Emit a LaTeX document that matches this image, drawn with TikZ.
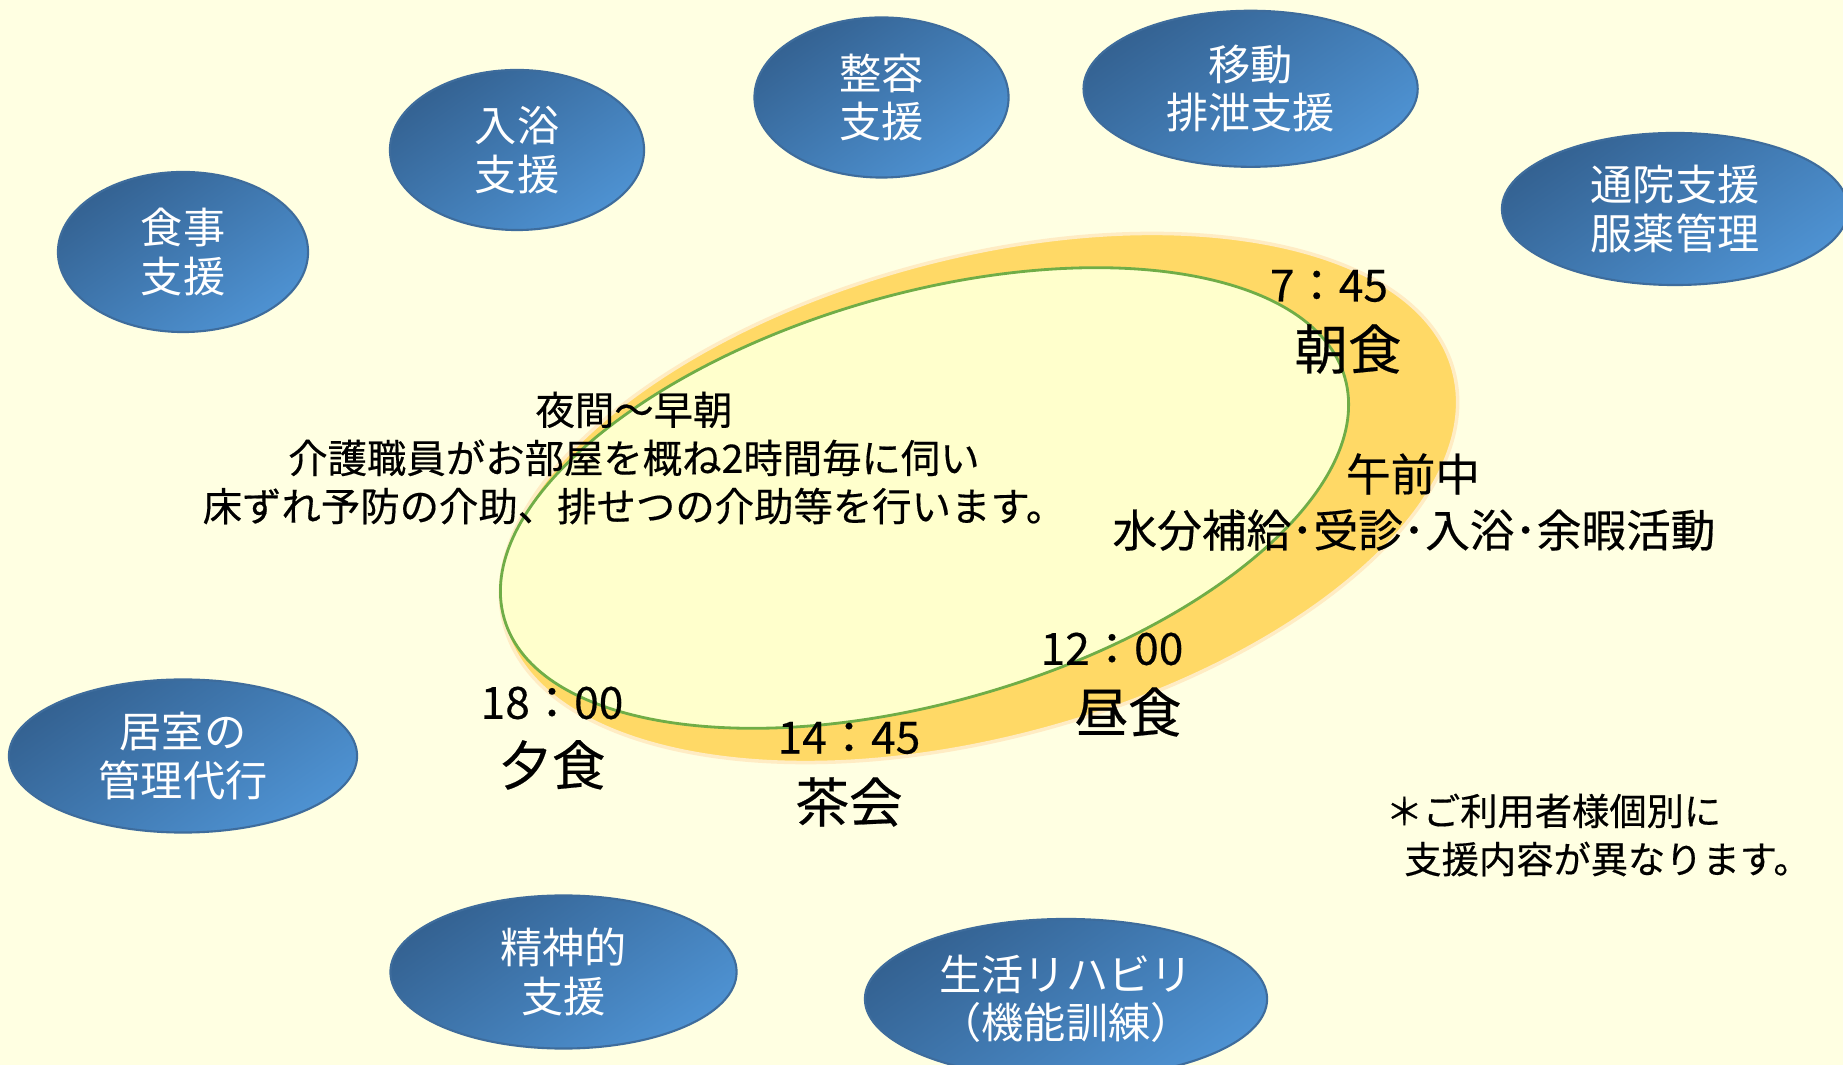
\documentclass[tikz,border=0pt]{standalone}
\usepackage{fontspec}
\setmainfont{Noto Sans CJK JP}
\newfontfamily\darkfont[FakeBold=0.4]{Noto Sans CJK JP}
\usetikzlibrary{shapes.geometric}

\begin{document}
\begin{tikzpicture}[x=0.01cm,y=-0.01cm,
  bubble/.style={ellipse,draw=bubbleline,line width=0.6pt,top color=bubbletop,bottom color=bubblebot,shading angle=35,text=white,align=center,inner sep=0pt,font=\fontsize{12}{13.7}\selectfont},
  clock/.style={inner sep=0pt,font=\darkfont\fontsize{12.6}{14}\selectfont},
  meal/.style={inner sep=0pt,font=\darkfont\fontsize{15.2}{18}\selectfont},
  busy/.style={inner sep=0pt,font=\darkfont\fontsize{12.7}{14}\selectfont},
  remark/.style={inner sep=0pt,align=center,font=\darkfont\fontsize{11.2}{13.7}\selectfont}]
\definecolor{paper}{RGB}{255,255,226}
\definecolor{bubbletop}{RGB}{52,98,146}
\definecolor{bubblebot}{RGB}{78,146,210}
\definecolor{bubbleline}{RGB}{62,108,156}
\definecolor{ringcolor}{RGB}{255,217,102}
\definecolor{ringedge}{RGB}{255,236,196}
\definecolor{daycolor}{RGB}{255,255,204}
\definecolor{dayline}{RGB}{112,173,71}
\clip (0,0) rectangle (1843,1065);
\fill[paper] (0,0) rectangle (1843,1065);
\node (ring) at (979,498) [ellipse,rotate=15,minimum width=9.82cm,minimum height=4.8cm,fill=ringcolor,draw=ringedge,line width=1pt] {};
\node (day) at (924.5,498) [ellipse,rotate=16,minimum width=8.74cm,minimum height=4.08cm,fill=daycolor,draw=dayline,line width=0.8pt] {};
\node (meals) at (183,252) [bubble,minimum width=2.5cm,minimum height=1.6cm] {食事\\支援};
\node (bath) at (517,150) [bubble,minimum width=2.54cm,minimum height=1.6cm] {入浴\\支援};
\node (groom) at (881.5,97.5) [bubble,minimum width=2.54cm,minimum height=1.6cm] {整容\\支援};
\node (move) at (1250.6,88.8) [bubble,minimum width=3.34cm,minimum height=1.56cm] {移動\\排泄支援};
\node (clinic) at (1675,209) [bubble,minimum width=3.46cm,minimum height=1.52cm] {通院支援\\服薬管理};
\node (room) at (183,756) [bubble,minimum width=3.48cm,minimum height=1.53cm] {居室の\\管理代行};
\node (mind) at (563.5,972) [bubble,minimum width=3.46cm,minimum height=1.53cm] {精神的\\支援};
\node (rehab) at (1066,999) [bubble,minimum width=4.02cm,minimum height=1.6cm] {生活リハビリ\\（機能訓練）};
\node (night) at (634,458) [remark] {夜間～早朝\\介護職員がお部屋を概ね2時間毎に伺い\\床ずれ予防の介助、排せつの介助等を行います。};
\node (t745) at (1329,286) [clock] {7：45};
\node (asa) at (1348,349) [meal] {朝食};
\node (gozen) at (1413,474) [busy] {午前中};
\node (suibun) at (1414,530) [busy] {水分補給･受診･入浴･余暇活動};
\node (t1200) at (1112,649) [clock] {12：00};
\node (hiru) at (1128,712) [meal] {昼食};
\node (t1445) at (849,738) [clock] {14：45};
\node (cha) at (849,802) [meal] {茶会};
\node (t1800) at (552,703) [clock] {18：00};
\node (yu) at (552,765) [meal] {夕食};
\node (note) at (1385,835) [anchor=west,inner sep=0pt,align=left,font=\darkfont\fontsize{10.6}{13.7}\selectfont] {＊ご利用者様個別に\\\hspace{0.5em}支援内容が異なります。};
\end{tikzpicture}
\end{document}
